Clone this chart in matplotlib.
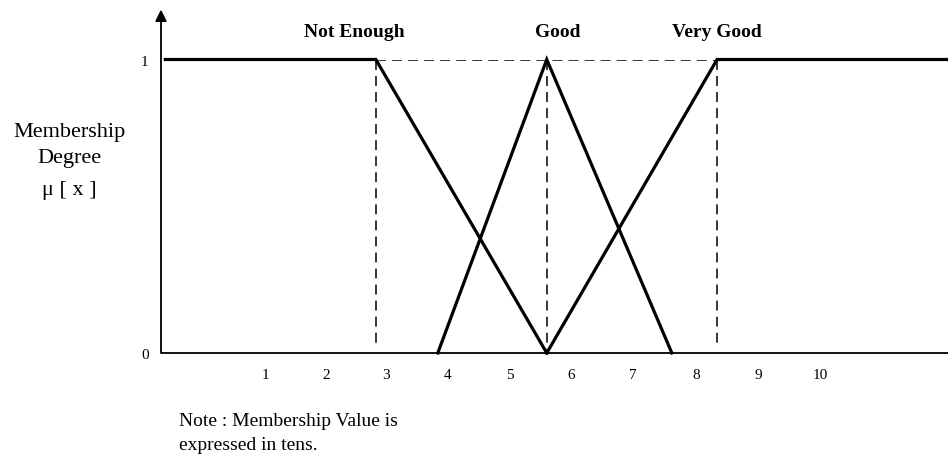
import matplotlib
matplotlib.use("Agg")
import matplotlib.pyplot as plt

# ---- data ----
not_enough_x = [-0.62, 2.78, 5.54]
not_enough_y = [1, 1, 0]
good_x = [3.78, 5.54, 7.56]
good_y = [0, 1, 0]
very_good_x = [5.54, 8.29, 12.02]
very_good_y = [0, 1, 1]
guide_x = [2.78, 5.54, 8.29]
guide_bottom = [0.03, 0.0, 0.03]
category_labels = ["Not Enough", "Good", "Very Good"]
category_label_x = [2.43, 5.72, 8.28]
xtick_vals = [1, 1.97, 2.95, 3.93, 4.94, 5.93, 6.93, 7.95, 8.95, 9.95]
xtick_labels = ["1", "2", "3", "4", "5", "6", "7", "8", "9", "10"]
ytick_vals = [0, 1]
ytick_labels = ["0", "1"]

plt.rcParams['font.family'] = ['Liberation Serif', 'DejaVu Serif']

W, H = 948, 457
fig = plt.figure(figsize=(W / 100, H / 100), dpi=100)
left_px, right_px, bottom_px, top_px = 161, 948, 353, 59.5
ax = fig.add_axes([left_px / W, 1 - bottom_px / H,
                   (right_px - left_px) / W, (bottom_px - top_px) / H])
ax.set_xlim(-0.69, 12.02)
ax.set_ylim(0, 1)
for s in ax.spines.values():
    s.set_visible(False)
ax.set_xticks([])
ax.set_yticks([])

# axes lines
ax.plot([-0.69, 12.02], [0, 0], color='black', lw=1.3, clip_on=False, solid_capstyle='butt')
ax.annotate('', xy=(-0.69, 1.17), xytext=(-0.69, 0),
            arrowprops=dict(arrowstyle='-|>', color='black', lw=1.3,
                            mutation_scale=17, shrinkA=0, shrinkB=0),
            annotation_clip=False)

# dashed guides
dash = (0, (6.5, 4))
ax.plot([guide_x[0], guide_x[-1]], [1, 1], color='black', lw=1.1, linestyle=dash)
for gx, gb in zip(guide_x, guide_bottom):
    ax.plot([gx, gx], [1, gb], color='black', lw=1.1, linestyle=dash)

# membership functions
for xs, ys in [(not_enough_x, not_enough_y), (good_x, good_y), (very_good_x, very_good_y)]:
    ax.plot(xs, ys, color='black', lw=2.3, clip_on=False, solid_joinstyle='miter')

# category labels
for lab, lx in zip(category_labels, category_label_x):
    ax.text(lx, 1.092, lab, ha='center', va='center', fontsize=14, fontweight='bold')

# tick labels
for v, t in zip(xtick_vals, xtick_labels):
    ax.text(v, -0.075, t, ha='center', va='center', fontsize=11)
for v, t in zip(ytick_vals, ytick_labels):
    ax.text(-0.95, v - 0.01, t, ha='center', va='center', fontsize=11)

# y axis label
fig.text(69 / W, 1 - 133 / H, "Membership", ha='center', va='center', fontsize=16)
fig.text(69 / W, 1 - 158 / H, "Degree", ha='center', va='center', fontsize=16)
fig.text(69 / W, 1 - 191 / H, "\u03bc [ x ]", ha='center', va='center', fontsize=16)

# note
fig.text(179 / W, 1 - 422 / H, "Note : Membership Value is", ha='left', va='center', fontsize=14)
fig.text(179 / W, 1 - 445 / H, "expressed in tens.", ha='left', va='center', fontsize=14)

fig.savefig("out.png", dpi=100, facecolor='white')
